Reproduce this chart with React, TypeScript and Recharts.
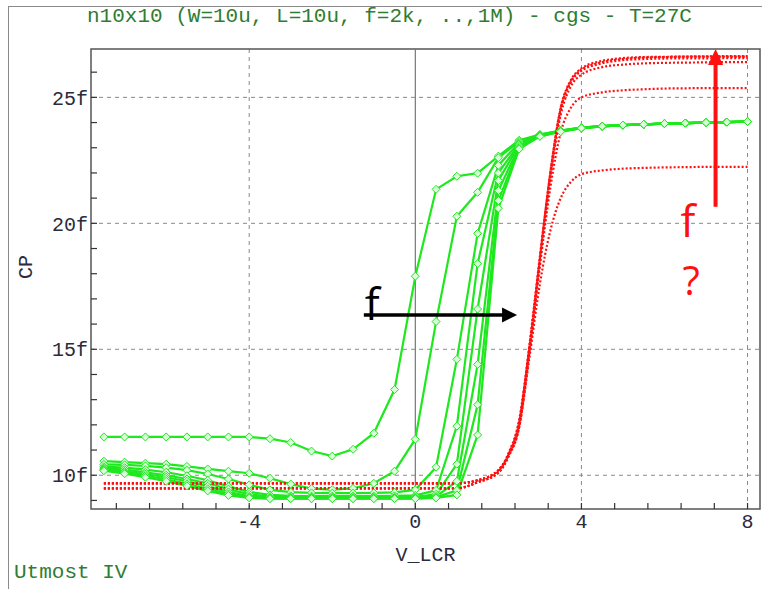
import React from 'react';
import { LineChart, Line, XAxis, YAxis, CartesianGrid, ReferenceLine, ReferenceArea } from 'recharts';

// sweep points (V_LCR) for the measured curves (green) and the simulated ones (red)
const xGreen = [-7.5, -7, -6.5, -6, -5.5, -5, -4.5, -4, -3.5, -3, -2.5, -2, -1.5, -1, -0.5, 0, 0.5, 1, 1.5, 2, 2.5, 3, 3.5, 4, 4.5, 5, 5.5, 6, 6.5, 7, 7.5, 8];
const xRed = [-7.5, -7, -6.5, -6, -5.5, -5, -4.5, -4, -3.5, -3, -2.5, -2, -1.5, -1, -0.5, 0, 0.5, 1, 1.5, 2, 2.25, 2.5, 2.75, 3, 3.25, 3.5, 3.75, 4, 4.5, 5, 5.5, 6, 6.5, 7, 7.5, 8];

// CP in fF
const g1 = [11.52, 11.52, 11.52, 11.52, 11.52, 11.52, 11.52, 11.52, 11.45, 11.3, 10.96, 10.76, 11.03, 11.67, 13.4, 17.9, 21.35, 21.87, 21.99, 22.67, 23.3, 23.52, 23.68, 23.8, 23.86, 23.9, 23.93, 23.96, 23.98, 24.0, 24.02, 24.04];
const g2 = [10.56, 10.52, 10.48, 10.44, 10.35, 10.25, 10.16, 10.08, 9.88, 9.65, 9.47, 9.43, 9.48, 9.68, 10.16, 11.43, 16.1, 20.28, 21.23, 22.6, 23.25, 23.52, 23.68, 23.8, 23.86, 23.9, 23.93, 23.96, 23.98, 24.0, 24.02, 24.04];
const g3 = [10.43, 10.41, 10.37, 10.3, 10.2, 10.05, 9.85, 9.62, 9.42, 9.33, 9.3, 9.29, 9.29, 9.3, 9.32, 9.42, 10.32, 14.6, 19.6, 22.3, 23.2, 23.5, 23.67, 23.8, 23.86, 23.9, 23.93, 23.96, 23.98, 24.0, 24.02, 24.04];
const g4 = [10.34, 10.3, 10.22, 10.12, 9.98, 9.8, 9.56, 9.34, 9.22, 9.18, 9.17, 9.17, 9.17, 9.17, 9.18, 9.2, 9.4, 11.95, 18.4, 22.0, 23.15, 23.5, 23.66, 23.79, 23.86, 23.9, 23.93, 23.96, 23.98, 24.0, 24.02, 24.04];
const g5 = [10.28, 10.22, 10.12, 10.0, 9.85, 9.68, 9.45, 9.24, 9.15, 9.13, 9.12, 9.12, 9.12, 9.12, 9.12, 9.14, 9.24, 10.44, 16.6, 21.7, 23.1, 23.48, 23.66, 23.79, 23.85, 23.9, 23.93, 23.96, 23.98, 24.0, 24.02, 24.04];
const g6 = [10.24, 10.15, 10.05, 9.92, 9.76, 9.56, 9.34, 9.16, 9.1, 9.09, 9.09, 9.09, 9.09, 9.09, 9.09, 9.1, 9.16, 9.76, 14.4, 21.3, 23.05, 23.47, 23.65, 23.78, 23.85, 23.9, 23.93, 23.96, 23.98, 24.0, 24.02, 24.04];
const g7 = [10.2, 10.1, 9.98, 9.84, 9.66, 9.46, 9.26, 9.12, 9.08, 9.08, 9.08, 9.08, 9.08, 9.08, 9.08, 9.08, 9.12, 9.4, 12.8, 20.9, 23.0, 23.46, 23.65, 23.78, 23.85, 23.9, 23.93, 23.96, 23.98, 24.0, 24.02, 24.04];
const g8 = [10.18, 10.06, 9.92, 9.76, 9.58, 9.38, 9.2, 9.1, 9.07, 9.07, 9.07, 9.07, 9.07, 9.07, 9.07, 9.07, 9.1, 9.22, 11.6, 20.6, 22.95, 23.45, 23.64, 23.78, 23.85, 23.9, 23.93, 23.96, 23.98, 24.0, 24.02, 24.04];

const rA = [9.68, 9.68, 9.68, 9.68, 9.68, 9.68, 9.68, 9.68, 9.68, 9.68, 9.68, 9.68, 9.68, 9.68, 9.68, 9.68, 9.68, 9.68, 9.8, 10.2, 10.9, 12.2, 15.2, 18.7, 22.0, 24.6, 25.7, 26.15, 26.45, 26.56, 26.6, 26.61, 26.62, 26.62, 26.62, 26.62];
const rB = [9.48, 9.48, 9.48, 9.48, 9.48, 9.48, 9.48, 9.48, 9.48, 9.48, 9.48, 9.48, 9.48, 9.48, 9.48, 9.48, 9.48, 9.48, 9.72, 10.1, 10.8, 12.0, 15.0, 18.5, 21.9, 24.5, 25.6, 26.05, 26.35, 26.48, 26.52, 26.54, 26.55, 26.55, 26.56, 26.56];
const rC = [9.68, 9.68, 9.68, 9.68, 9.68, 9.68, 9.68, 9.68, 9.68, 9.68, 9.68, 9.68, 9.68, 9.68, 9.68, 9.68, 9.68, 9.68, 9.8, 10.2, 10.85, 12.1, 15.1, 18.6, 21.8, 24.3, 25.45, 25.9, 26.2, 26.3, 26.35, 26.37, 26.38, 26.39, 26.4, 26.4];
const rD = [9.48, 9.48, 9.48, 9.48, 9.48, 9.48, 9.48, 9.48, 9.48, 9.48, 9.48, 9.48, 9.48, 9.48, 9.48, 9.48, 9.48, 9.48, 9.72, 10.1, 10.75, 11.9, 14.9, 18.3, 21.4, 23.6, 24.6, 25.0, 25.2, 25.28, 25.32, 25.35, 25.36, 25.37, 25.37, 25.37];
const rE = [9.68, 9.68, 9.68, 9.68, 9.68, 9.68, 9.68, 9.68, 9.68, 9.68, 9.68, 9.68, 9.68, 9.68, 9.68, 9.68, 9.68, 9.68, 9.8, 10.2, 10.8, 11.9, 14.7, 17.6, 19.7, 21.0, 21.65, 21.95, 22.1, 22.17, 22.2, 22.22, 22.23, 22.24, 22.24, 22.24];
const rF = [9.48, 9.48, 9.48, 9.48, 9.48, 9.48, 9.48, 9.48, 9.48, 9.48, 9.48, 9.48, 9.48, 9.48, 9.48, 9.48, 9.48, 9.48, 9.72, 10.15, 10.85, 12.1, 15.1, 18.6, 22.0, 24.55, 25.65, 26.1, 26.4, 26.52, 26.58, 26.6, 26.62, 26.63, 26.64, 26.64];

const greenSeries = [g1, g2, g3, g4, g5, g6, g7, g8];
const redSeries = [rA, rB, rC, rD, rE, rF];

const xTicks = [-7.2, -6.4, -5.6, -4.8, -4, -3.2, -2.4, -1.6, -0.8, 0, 0.8, 1.6, 2.4, 3.2, 4, 4.8, 5.6, 6.4, 7.2, 8];
const xMajor = [-4, 0, 4, 8];
const yTicks = [9, 10, 11, 12, 13, 14, 15, 16, 17, 18, 19, 20, 21, 22, 23, 24, 25, 26];
const yMajor = [10, 15, 20, 25];

const X_DOMAIN: [number, number] = [-7.81, 8.3];
const Y_DOMAIN: [number, number] = [8.66, 26.92];

// annotation arrows (data coordinates)
const arrowBlack = [{ x: -1.24, y: 16.36 }, { x: 2.45, y: 16.36 }];
const arrowRed = [{ x: 7.23, y: 20.66 }, { x: 7.23, y: 26.92 }];

const GREEN = '#1ee81e';
const RED = '#ff1010';
const MONO = '"Liberation Mono", "DejaVu Sans Mono", monospace';
const LABEL = '#2b2b3b';

const toPts = (xs: number[], ys: number[]) => xs.map((x, i) => ({ x, y: ys[i] }));
const isMajor = (v: number, list: number[]) => list.some((m) => Math.abs(m - v) < 1e-6);

const Diamond = (p: any) => {
  const { cx, cy, key } = p;
  if (cx == null || cy == null) return <g key={key} />;
  return (
    <polygon
      key={key}
      points={`${cx},${cy - 4} ${cx + 4},${cy} ${cx},${cy + 4} ${cx - 4},${cy}`}
      fill="#d8ffd8"
      stroke={GREEN}
      strokeWidth={1}
    />
  );
};

const YTick = (p: any) => {
  const { x, y, payload } = p;
  const ax = x + 3;
  const major = isMajor(payload.value, yMajor);
  return (
    <g>
      <line x1={ax} x2={ax + 6} y1={y} y2={y} stroke="#333" strokeWidth={1.2} />
      {major && (
        <text x={x} y={y} dy="0.36em" textAnchor="end" fontFamily={MONO} fontSize={20} fill={LABEL}>
          {payload.value}f
        </text>
      )}
    </g>
  );
};

const XTick = (p: any) => {
  const { x, y, payload } = p;
  const ay = y - 4;
  const major = isMajor(payload.value, xMajor);
  return (
    <g>
      <line x1={x} x2={x} y1={ay} y2={ay - 6} stroke="#333" strokeWidth={1.2} />
      {major && (
        <text x={x} y={ay + 19} textAnchor="middle" fontFamily={MONO} fontSize={20} fill={LABEL}>
          {Math.round(payload.value)}
        </text>
      )}
    </g>
  );
};

const HArrow = (p: any) => {
  const { x1, y1, x2 } = p;
  return (
    <g>
      <line x1={x1} y1={y1} x2={x2 - 12} y2={y1} stroke="#000" strokeWidth={3.5} />
      <polygon points={`${x2},${y1} ${x2 - 15},${y1 - 7.5} ${x2 - 15},${y1 + 7.5}`} fill="#000" />
      <text x={x1 + 1} y={y1 + 5} fontFamily='"Open Sans", sans-serif' fontSize={44} fill="#000">f</text>
    </g>
  );
};

const VArrow = (p: any) => {
  const { x1, y1, y2 } = p;
  return (
    <g>
      <line x1={x1} y1={y1} x2={x1} y2={y2 + 12} stroke={RED} strokeWidth={4} />
      <polygon points={`${x1},${y2} ${x1 - 7.5},${y2 + 16} ${x1 + 7.5},${y2 + 16}`} fill={RED} />
      <text x={x1 - 35} y={y1 + 30} fontFamily='"Open Sans", sans-serif' fontSize={44} fill={RED}>f</text>
      <text x={x1 - 33} y={y1 + 88} fontFamily='"Open Sans", sans-serif' fontSize={40} fill={RED}>?</text>
    </g>
  );
};

export default function App() {
  return (
    <div style={{ position: 'absolute', left: 0, top: 0, width: 762, height: 589, overflow: 'hidden', background: '#fff' }}>
      <div style={{ position: 'absolute', left: 8, top: 6, width: 900, height: 800, border: '1.5px solid #8a8a8a' }} />
      <div style={{ position: 'absolute', left: 87, top: 3, fontFamily: MONO, fontSize: 21, color: '#2e7d32', whiteSpace: 'pre', lineHeight: '28px' }}>
        n10x10 (W=10u, L=10u, f=2k, ..,1M) - cgs - T=27C
      </div>
      <div style={{ position: 'absolute', left: 14, top: 559, fontFamily: MONO, fontSize: 21, color: '#2e7d32', whiteSpace: 'pre', lineHeight: '28px' }}>
        Utmost IV
      </div>
      <div style={{ position: 'absolute', left: 0, top: 0 }}>
        <LineChart width={762} height={589} margin={{ top: 49, right: 2, bottom: 50, left: 31 }}>
          <CartesianGrid
            stroke="#8a8a8a"
            strokeDasharray="4 4"
            horizontalValues={yMajor}
            verticalValues={[-4, 4, 8]}
          />
          <XAxis
            type="number"
            dataKey="x"
            domain={X_DOMAIN}
            ticks={xTicks}
            allowDataOverflow
            axisLine={false}
            tickLine={false}
            tickSize={0}
            tickMargin={4}
            height={30}
            interval={0}
            tick={<XTick />}
            label={{ value: 'V_LCR', position: 'insideBottom', offset: -22, fontFamily: MONO, fontSize: 20, fill: LABEL }}
          />
          <YAxis
            type="number"
            dataKey="y"
            domain={Y_DOMAIN}
            ticks={yTicks}
            allowDataOverflow
            axisLine={false}
            tickLine={false}
            tickSize={0}
            tickMargin={3}
            width={60}
            interval={0}
            tick={<YTick />}
            label={{ value: 'CP', angle: -90, position: 'insideLeft', offset: -6, fontFamily: MONO, fontSize: 20, fill: LABEL }}
          />
          <ReferenceLine x={0} stroke="#777" strokeWidth={1.2} />
          {greenSeries.map((ys, i) => (
            <Line
              key={`g${i}`}
              data={toPts(xGreen, ys)}
              dataKey="y"
              type="linear"
              stroke={GREEN}
              strokeWidth={2.2}
              dot={Diamond}
              activeDot={false}
              isAnimationActive={false}
            />
          ))}
          {redSeries.map((ys, i) => (
            <Line
              key={`r${i}`}
              data={toPts(xRed, ys)}
              dataKey="y"
              type="monotone"
              stroke={RED}
              strokeWidth={2.2}
              strokeDasharray="2 2"
              dot={false}
              activeDot={false}
              isAnimationActive={false}
            />
          ))}
          <ReferenceArea x1={X_DOMAIN[0]} x2={X_DOMAIN[1]} y1={Y_DOMAIN[0]} y2={Y_DOMAIN[1]} fill="none" stroke="#555" strokeWidth={1.5} ifOverflow="visible" />
          <ReferenceLine segment={arrowBlack} ifOverflow="visible" shape={HArrow} />
          <ReferenceLine segment={arrowRed} ifOverflow="visible" shape={VArrow} />
        </LineChart>
      </div>
    </div>
  );
}
